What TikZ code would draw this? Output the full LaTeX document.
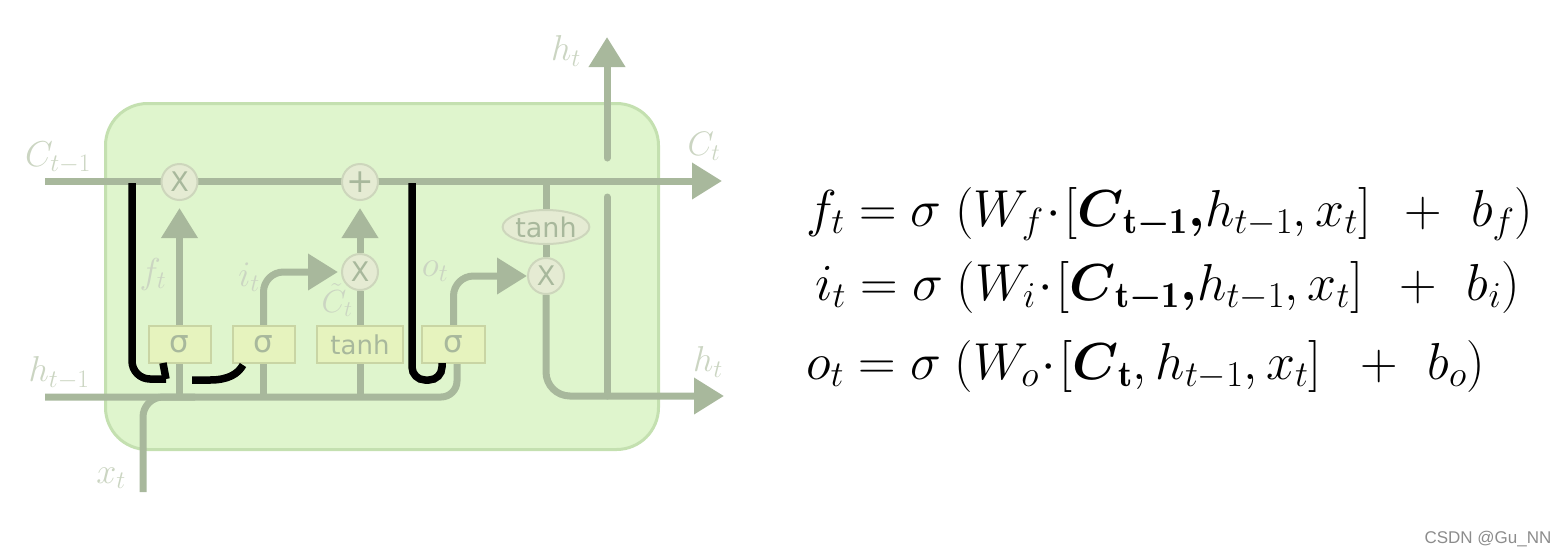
\documentclass[tikz,border=0pt]{standalone}
\usepackage{fix-cm}
\usepackage{exscale}
\usepackage{amsmath}
\usepackage{fontspec}
\usepackage{tikz}
\usetikzlibrary{arrows.meta,backgrounds,shapes.geometric}
\newfontfamily\opfont{DejaVu Sans}
\newfontfamily\markfont{Liberation Sans}
\definecolor{cellfill}{HTML}{DFF5CD}
\definecolor{celledge}{HTML}{C4E0B0}
\definecolor{wirecol}{HTML}{A8B89C}
\definecolor{opfill}{HTML}{E5EBD3}
\definecolor{opedge}{HTML}{CDD6BC}
\definecolor{boxfill}{HTML}{E6F3BE}
\definecolor{boxedge}{HTML}{C9D5A4}
\definecolor{labcol}{HTML}{CBD5C2}
\newcommand{\prevcell}{\boldsymbol{C}_{\mathbf{t}\boldsymbol{-}\mathbf{1}}\boldsymbol{,}}
\begin{document}
\begin{tikzpicture}[
  x=1pt, y=-1pt,
  cell/.style={draw=celledge, fill=cellfill, line width=3pt, rounded corners=42pt,
               minimum width=553pt, minimum height=346pt, inner sep=0pt},
  wire/.style={draw=wirecol, line width=7pt},
  ar/.style={wire, -{Triangle[length=30pt, width=35pt]}},
  peep/.style={draw=black, line width=7.5pt},
  opc/.style={circle, draw=opedge, fill=opfill, line width=2pt, minimum size=36pt,
              inner sep=0pt, text=wirecol, font=\opfont\fontsize{27}{27}\selectfont},
  layerbox/.style={draw=boxedge, fill=boxfill, line width=2pt, minimum height=37pt,
              inner sep=0pt, text=wirecol, font=\opfont\fontsize{31}{31}\selectfont},
  tanhbox/.style={layerbox, font=\opfont\fontsize{26}{26}\selectfont},
  lab/.style={text=labcol, inner sep=0pt, font=\fontsize{36}{40}\selectfont},
  eqn/.style={anchor=base west, inner sep=0pt, font=\fontsize{52}{56}\selectfont},
]
\useasboundingbox (0,0) rectangle (1568,558);

% gates
\node[opc] (mulf) at (179.5,182) {X};
\node[opc, font=\opfont\fontsize{33}{33}\selectfont] (addc) at (360,182) {+};
\node[opc] (mulc) at (360,272) {X};
\node[opc] (mulo) at (546,276) {X};
\node[layerbox, minimum width=62pt] (fbox) at (179.5,344.5) {σ};
\node[layerbox, minimum width=62pt] (ibox) at (263.5,344.5) {σ};
\node[tanhbox, minimum width=86pt] (cbox) at (360,344.5) {tanh};
\node[layerbox, minimum width=63pt] (obox) at (453.5,344.5) {σ};
\node[ellipse, draw=opedge, fill=opfill, line width=2pt, minimum width=86pt, minimum height=34pt,
      inner sep=0pt, text=wirecol, font=\opfont\fontsize{27}{27}\selectfont] (tanho) at (546,227) {tanh};

% wire ends
\coordinate (cin) at (45,181);
\coordinate (cout) at (722,181);
\coordinate (hin) at (45,397);
\coordinate (hout) at (724,396);
\coordinate (xin) at (143,492);
\coordinate (xj) at (195,397);
\coordinate (fj) at (179.5,397);
\coordinate (ij) at (263.5,397);
\coordinate (cj) at (360,397);
\coordinate (oj) at (457,363);
\coordinate (tj) at (546,181);
\coordinate (hj) at (607,396);
\coordinate (gapa) at (607,197);
\coordinate (gapb) at (607,158);
\coordinate (htop) at (607,37);
% peephole ends
\coordinate (pfa) at (132,183);
\coordinate (pfb) at (166,379);
\coordinate (pfc) at (163,363);
\coordinate (pia) at (192,380);
\coordinate (pib) at (243,365);
\coordinate (poa) at (412,183);
\coordinate (pob) at (442,380);
\coordinate (poc) at (442,363);

\begin{scope}[on background layer]
\node[cell] (lstm) at (382,276.5) {};
\draw[ar] (cin) -- (cout);
\draw[wire, rounded corners=16pt] (hin) -| (oj);
\draw[wire, rounded corners=20pt] (xin) |- (xj);
\draw[wire] (fj) -- (fbox.south);
\draw[wire] (ij) -- (ibox.south);
\draw[wire] (cj) -- (cbox.south);
\draw[wire] (cbox.north) -- (mulc.south);
\draw[ar, shorten >=7pt] (fbox.north) -- (mulf.south);
\draw[ar, shorten >=7pt] (mulc.north) -- (addc.south);
\draw[ar, rounded corners=20pt, shorten >=3pt] (ibox.north) |- (mulc.west);
\draw[ar, rounded corners=20pt] (obox.north) |- (mulo.west);
\draw[wire] (tj) -- (tanho.north);
\draw[wire] (tanho.south) -- (mulo.north);
\draw[ar, rounded corners=24pt] (mulo.south) |- (hout);
\draw[wire, line cap=round] (hj) -- (gapa);
\draw[ar, line cap=round] (gapb) -- (htop);
\end{scope}

% peepholes
\draw[peep, rounded corners=18pt] (pfa) |- (pfb);
\draw[peep] (pfb) -- (pfc);
\draw[peep] (pia) -- ++(18,0) .. controls +(18,0) and +(-5,9) .. (pib);
\draw[peep, rounded corners=13pt] (poa) |- (pob) -- (poc);

% labels
\node[lab] (lc0) at (58,158) {$C_{t-1}$};
\node[lab] (lh0) at (59,373) {$h_{t-1}$};
\node[lab] (lx) at (111,478) {$x_t$};
\node[lab] (lf) at (153,274) {$f_t$};
\node[lab] (li) at (249,277) {$i_t$};
\node[lab, font=\fontsize{32}{36}\selectfont] (lct) at (337,300) {$\tilde{C}_t$};
\node[lab] (lo) at (435,271) {$o_t$};
\node[lab] (lht) at (566,51) {$h_t$};
\node[lab, font=\fontsize{34}{38}\selectfont] (lc1) at (704,146) {$C_t$};
\node[lab] (lh1) at (708,362) {$h_t$};

% equations
\node[eqn] (eqf) at (806,226) {$f_t = \sigma\hspace{5pt}\left(W_f\!\cdot\![\prevcell h_{t-1},x_t]\ \hspace{6pt}+\ \hspace{2pt}b_f\right)$};
\node[eqn] (eqi) at (815,300) {$i_t = \sigma\hspace{5pt}\left(W_i\!\cdot\![\prevcell h_{t-1},x_t]\ \hspace{9pt}+\ \hspace{3pt}b_i\right)$};
\node[eqn] (eqo) at (806,379) {$o_t = \sigma\hspace{5pt}\left(W_o\!\cdot\![\boldsymbol{C}_{\mathbf{t}},h_{t-1},x_t]\hspace{6pt}\ \hspace{6pt}+\ \hspace{2pt}b_o\right)$};

\node[text=black!45, inner sep=0pt, font=\markfont\fontsize{17}{17}\selectfont] (mark) at (1488,539) {CSDN @Gu\_NN};
\end{tikzpicture}
\end{document}
